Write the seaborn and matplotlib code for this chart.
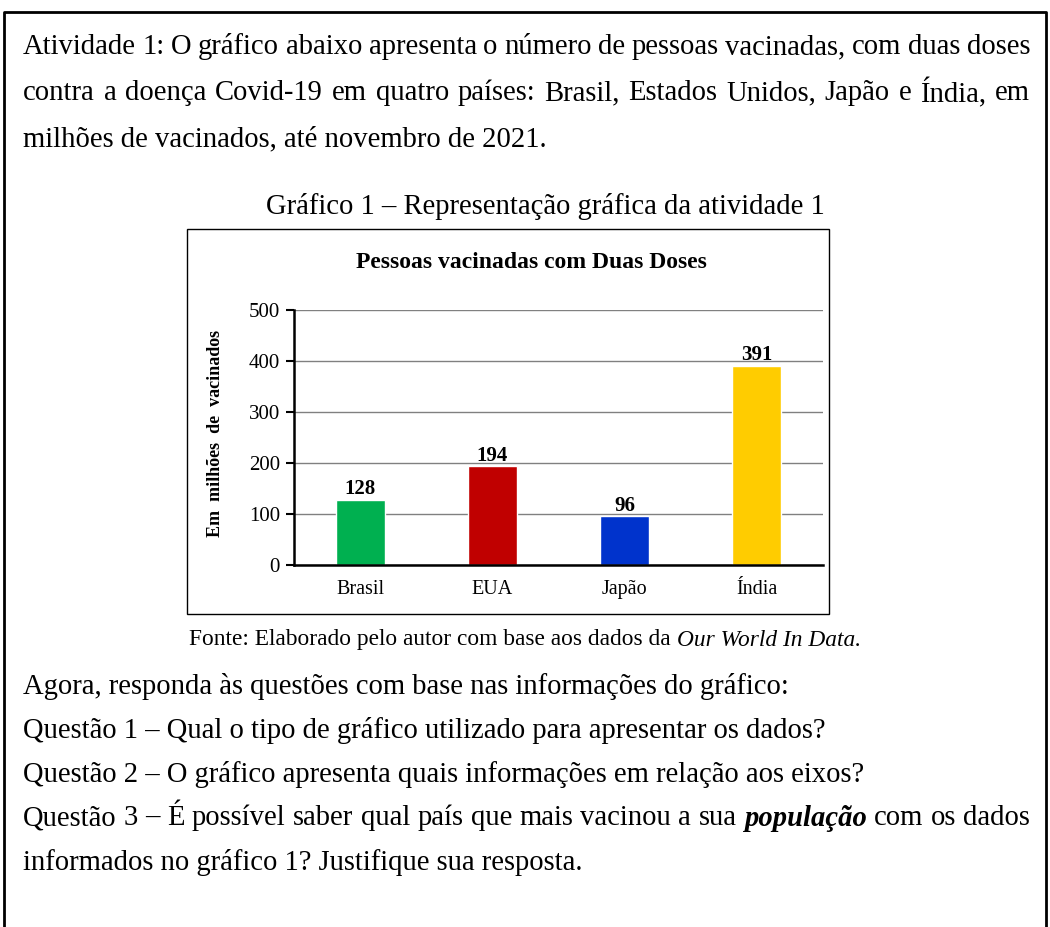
import pandas as pd
import matplotlib
matplotlib.use("Agg")
import matplotlib.pyplot as plt
import seaborn as sns
from matplotlib.lines import Line2D
from matplotlib.patches import Rectangle

# dados do grafico
paises = ["Brasil", "EUA", "Japão", "Índia"]
vacinados = [128, 194, 96, 391]
cores = ["#00B050", "#C00000", "#0033CC", "#FFCC00"]
yticks = [0, 100, 200, 300, 400, 500]

sns.set_style("white")
plt.rcParams["font.family"] = ["Liberation Serif", "DejaVu Serif"]
plt.rcParams["text.color"] = "black"
plt.rcParams["xtick.color"] = "black"
plt.rcParams["ytick.color"] = "black"

W, H = 1050, 927
fig = plt.figure(figsize=(W / 100, H / 100), dpi=100)
renderer = fig.canvas.get_renderer()


def fx(x):
    return x / W


def fy(y):
    return 1 - y / H


def txt(x, y, s, **kw):
    kw.setdefault("va", "center")
    return fig.text(fx(x), fy(y), s, **kw)


def largura(t):
    return t.get_window_extent(renderer).width


NORMAL = {}
NEGITA = {"fontweight": "bold", "fontstyle": "italic"}
TAM = 20.6


def justificar(y, partes, x0=23, x1=1030, size=TAM):
    objs = [txt(x0, y, p, fontsize=size, **st) for p, st in partes]
    ws = [largura(o) for o in objs]
    gap = (x1 - x0 - sum(ws)) / (len(objs) - 1)
    x = x0
    for o, w in zip(objs, ws):
        o.set_x(fx(x))
        x += w + gap


# moldura externa
fig.add_artist(Line2D([fx(4), fx(4), fx(1046), fx(1046)], [0, fy(12), fy(12), 0],
                      transform=fig.transFigure, color="black", lw=2))

# texto do enunciado
l1 = "Atividade 1: O gráfico abaixo apresenta o número de pessoas vacinadas, com duas doses"
l2 = "contra a doença Covid-19 em quatro países: Brasil, Estados Unidos, Japão e Índia, em"
justificar(47, [(w, NORMAL) for w in l1.split()])
justificar(93, [(w, NORMAL) for w in l2.split()])
txt(23, 139, "milhões de vacinados, até novembro de 2021.", fontsize=TAM)

txt(545, 207, "Gráfico 1 – Representação gráfica da atividade 1", fontsize=TAM, ha="center")

# caixa do grafico
fig.add_artist(Rectangle((fx(187), fy(614)), fx(829) - fx(187), fy(229) - fy(614),
                         transform=fig.transFigure, fill=False, ec="black", lw=1))

ax = fig.add_axes([fx(294), fy(565), fx(823) - fx(294), fy(310) - fy(565)])
df = pd.DataFrame({"pais": paises, "vacinados": vacinados})
sns.barplot(data=df, x="pais", y="vacinados", hue="pais", palette=cores,
            saturation=1, width=0.37, legend=False, ax=ax)

ax.set_ylim(0, 500)
ax.set_xlim(-0.5, 3.5)
ax.set_yticks(yticks)
ax.set_yticklabels([str(v) for v in yticks], fontsize=15)
ax.set_xticks(range(len(paises)))
ax.set_xticklabels(paises, fontsize=14.5)
ax.set_xticks([-0.5, 0.5, 1.5, 2.5, 3.5], minor=True)
ax.tick_params(axis="x", which="major", length=0, pad=11)
ax.tick_params(axis="x", which="minor", length=5, width=1.5, direction="out", color="black")
ax.tick_params(axis="y", length=6, width=1.5, direction="out", color="black", pad=4, left=True)
ax.yaxis.grid(True, color="#808080", lw=1)
ax.set_axisbelow(True)
for s in ["top", "right"]:
    ax.spines[s].set_visible(False)
for s in ["left", "bottom"]:
    ax.spines[s].set_color("black")
    ax.spines[s].set_linewidth(1.8)
ax.set_xlabel("")
ax.set_ylabel("")

for i, v in enumerate(vacinados):
    ax.text(i, v + 1, str(v), ha="center", va="bottom", fontsize=15, fontweight="bold")

txt(531, 263, "Pessoas vacinadas com Duas Doses", fontsize=17, fontweight="bold", ha="center")
txt(215, 433, "Em  milhões  de  vacinados", fontsize=13, fontweight="bold", ha="center",
    rotation=90)

# fonte
f1 = txt(0, 640, "Fonte: Elaborado pelo autor com base aos dados da ", fontsize=16.8)
f2 = txt(0, 640, "Our World In Data.", fontsize=16.8, fontstyle="italic")
w1, w2 = largura(f1), largura(f2)
x0 = 525 - (w1 + w2) / 2
f1.set_x(fx(x0))
f2.set_x(fx(x0 + w1))

# questoes
txt(23, 686, "Agora, responda às questões com base nas informações do gráfico:", fontsize=TAM)
txt(23, 730, "Questão 1 – Qual o tipo de gráfico utilizado para apresentar os dados?", fontsize=TAM)
txt(23, 774, "Questão 2 – O gráfico apresenta quais informações em relação aos eixos?", fontsize=TAM)
q3 = [(w, NORMAL) for w in "Questão 3 – É possível saber qual país que mais vacinou a sua".split()]
q3 += [("população", NEGITA)]
q3 += [(w, NORMAL) for w in "com os dados".split()]
justificar(818, q3)
txt(23, 862, "informados no gráfico 1? Justifique sua resposta.", fontsize=TAM)

fig.savefig("out.png", dpi=100)
